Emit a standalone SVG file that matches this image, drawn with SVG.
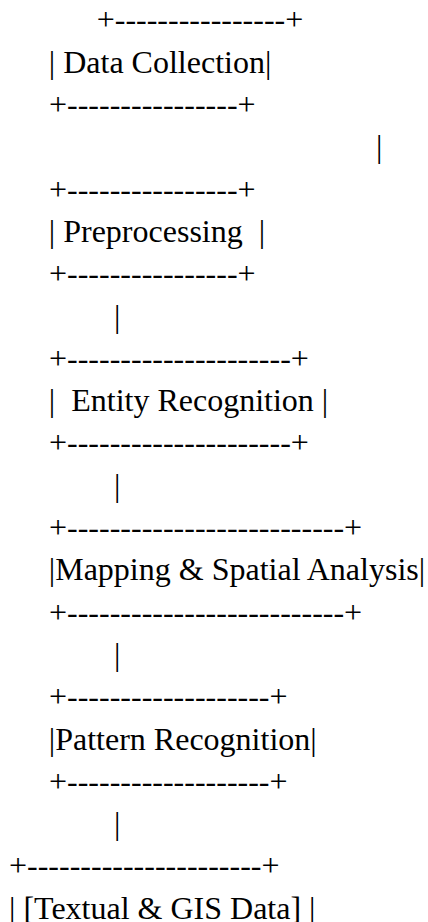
<svg xmlns="http://www.w3.org/2000/svg" width="428" height="922" viewBox="0 0 428 922">
<style>
text { font-family: "Liberation Serif", "Times New Roman", serif; font-size: 32px; fill: #000; white-space: pre; }
</style>
<rect width="428" height="922" fill="#fff"/>
<g id="data-collection">
<text x="96.7" y="30.4">+----------------+</text>
<text x="48.8" y="72.7" xml:space="preserve">| Data Collection|</text>
<text x="49" y="115">+----------------+</text>
</g>
<g id="connectors">
<text x="376" y="157.3">|</text>
<text x="114" y="326.5">|</text>
<text x="114" y="495.7">|</text>
<text x="114" y="664.9">|</text>
<text x="114" y="834.1">|</text>
</g>
<g id="preprocessing">
<text x="49" y="199.6">+----------------+</text>
<text x="48.8" y="241.9" xml:space="preserve">| Preprocessing  |</text>
<text x="49" y="284.2">+----------------+</text>
</g>
<g id="entity-recognition">
<text x="49" y="368.8">+---------------------+</text>
<text x="48.8" y="411.1" xml:space="preserve">|  Entity Recognition |</text>
<text x="49" y="453.4">+---------------------+</text>
</g>
<g id="mapping-spatial-analysis">
<text x="49" y="538">+--------------------------+</text>
<text x="48.8" y="580.3">|Mapping &amp; Spatial Analysis|</text>
<text x="49" y="622.6">+--------------------------+</text>
</g>
<g id="pattern-recognition">
<text x="49" y="707.2">+-------------------+</text>
<text x="48.8" y="749.5">|Pattern Recognition|</text>
<text x="49" y="791.8">+-------------------+</text>
</g>
<g id="textual-gis-data">
<text x="9" y="876.4">+----------------------+</text>
<text x="9" y="918.7" xml:space="preserve">| [Textual &amp; GIS Data] |</text>
</g>
</svg>
